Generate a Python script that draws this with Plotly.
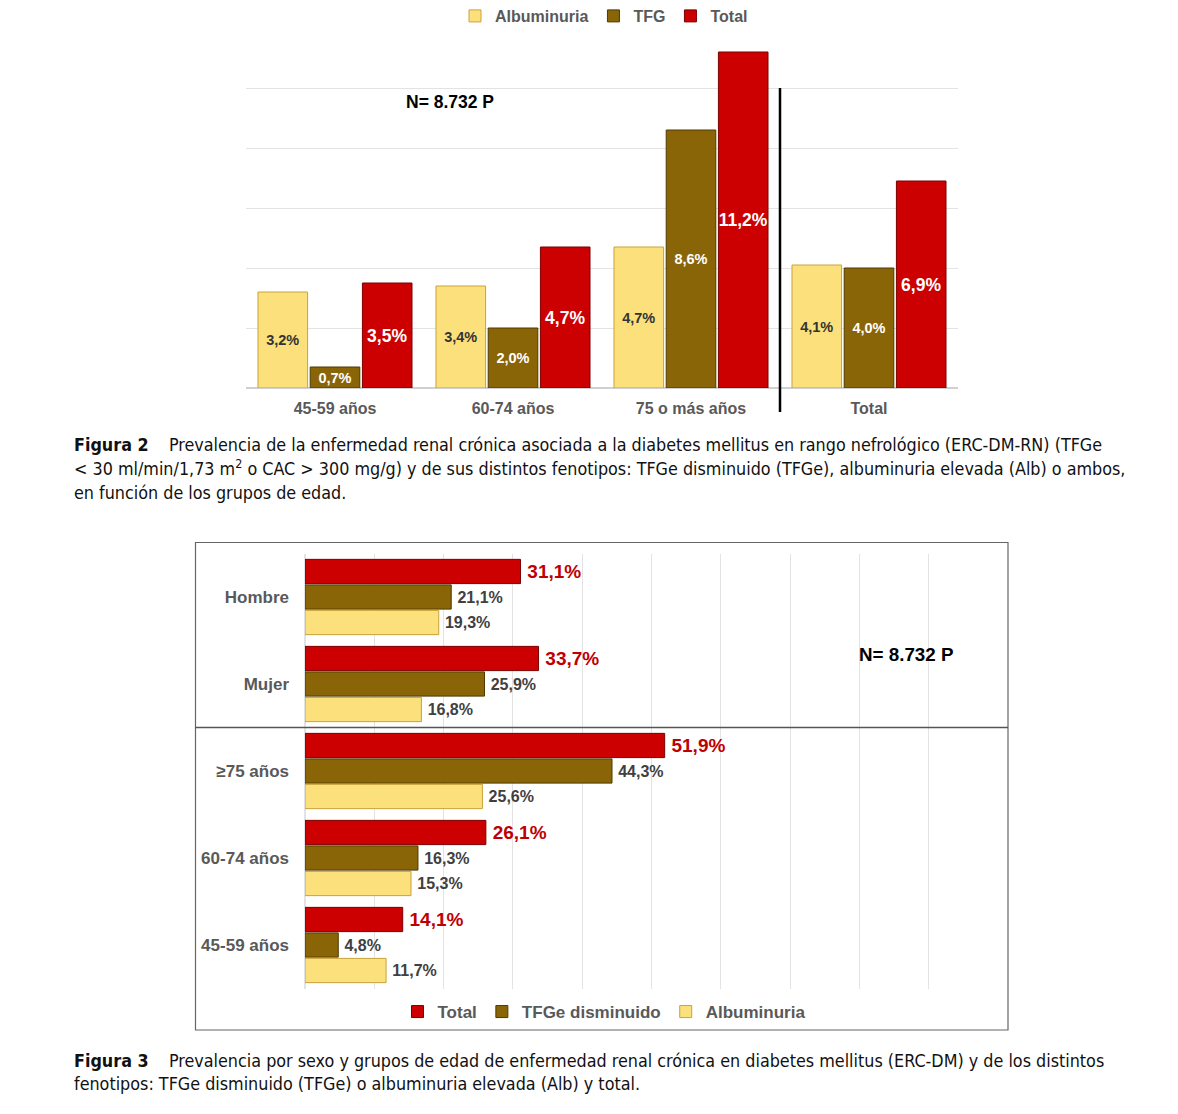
import plotly.graph_objects as go

# ---------------- Data: Figure 2 ----------------
f2_categories = ["45-59 años", "60-74 años", "75 o más años", "Total"]
f2_albuminuria = [3.2, 3.4, 4.7, 4.1]
f2_tfg = [0.7, 2.0, 8.6, 4.0]
f2_total = [3.5, 4.7, 11.2, 6.9]

# ---------------- Data: Figure 3 ----------------
f3_categories = ["45-59 años", "60-74 años", "≥75 años", "Mujer", "Hombre"]
f3_albuminuria = [11.7, 15.3, 25.6, 16.8, 19.3]
f3_tfge = [4.8, 16.3, 44.3, 25.9, 21.1]
f3_total = [14.1, 26.1, 51.9, 33.7, 31.1]

OFF = 8  # page body margin
W, H = 1178 - OFF, 1114 - OFF
YELLOW = "#FBE07B"
BROWN = "#8A6508"
RED = "#CC0000"
GREY = "#595959"
FONT = "Liberation Sans, Arial, sans-serif"
CAP_FONT = "DejaVu Sans Condensed, DejaVu Sans, sans-serif"


def fmt(vals, pre=""):
    return [pre + f"{v:.1f}%".replace(".", ",") for v in vals]


def px_x(p):
    return (p - OFF) / W


def px_y(p):
    return 1 - (p - OFF) / H


fig = go.Figure()

# Figure 2 bars
for name, vals, color, lcol, tcol, tsize in [
    ("Albuminuria", f2_albuminuria, YELLOW, "#C9A33C", "#333333", 14.5),
    ("TFG", f2_tfg, BROWN, "#4F3A00", "#FFFFFF", 14.5),
    ("Total", f2_total, RED, "#7A0000", "#FFFFFF", 17.5),
]:
    fig.add_trace(go.Bar(
        x=f2_categories, y=vals, name=name, xaxis="x", yaxis="y",
        marker=dict(color=color, line=dict(color=lcol, width=1)),
        text=fmt(vals), textposition="inside", insidetextanchor="middle",
        textangle=0, constraintext="none",
        textfont=dict(family=FONT, size=tsize, color=tcol, weight="bold"),
        legend="legend", hoverinfo="skip",
    ))

# Figure 3 bars (first trace drawn at bottom of each group)
for name, vals, color, lcol, tcol, tsize in [
    ("Albuminuria", f3_albuminuria, YELLOW, "#C9A33C", "#404040", 16),
    ("TFGe disminuido", f3_tfge, BROWN, "#4F3A00", "#404040", 16),
    ("Total", f3_total, RED, "#7A0000", "#C00000", 19),
]:
    fig.add_trace(go.Bar(
        y=f3_categories, x=vals, name=name, orientation="h",
        xaxis="x2", yaxis="y2",
        marker=dict(color=color, line=dict(color=lcol, width=1)),
        text=fmt(vals, "\u2009"), textposition="outside", constraintext="none",
        textangle=0, cliponaxis=False,
        textfont=dict(family=FONT, size=tsize, color=tcol, weight="bold"),
        legend="legend2", hoverinfo="skip",
    ))

shapes = [
    # separator line in figure 2
    dict(type="line", xref="x", yref="paper", x0=2.5, x1=2.5,
         y0=px_y(412), y1=px_y(88), line=dict(color="black", width=2.5)),
    # box around figure 3
    dict(type="rect", xref="paper", yref="paper", x0=px_x(195.5), x1=px_x(1008),
         y0=px_y(1030), y1=px_y(542.5), line=dict(color="#666666", width=1.2)),
    # separator line in figure 3
    dict(type="line", xref="paper", yref="y2", x0=px_x(195.5), x1=px_x(1008),
         y0=2.5, y1=2.5, line=dict(color="#555555", width=1.5)),
]

annotations = [
    dict(text="<b>N= 8.732 P</b>", xref="paper", yref="paper", x=px_x(404), y=px_y(102),
         xanchor="left", yanchor="middle", showarrow=False,
         font=dict(family=FONT, size=17.5, color="black")),
    dict(text="<b>N= 8.732 P</b>", xref="paper", yref="paper", x=px_x(857), y=px_y(654),
         xanchor="left", yanchor="middle", showarrow=False,
         font=dict(family=FONT, size=18.8, color="black")),
]

sp = "\u00a0"
cap_lines = [
    (444, f"<b>Figura 2</b>{sp*4}Prevalencia de la enfermedad renal crónica asociada a la diabetes mellitus en rango nefrológico (ERC-DM-RN) (TFGe"),
    (468, "<{sp}30{sp}ml/min/1,73 m<sup>2</sup> o CAC{sp}>{sp}300{sp}mg/g) y de sus distintos fenotipos: TFGe disminuido (TFGe), albuminuria elevada (Alb) o ambos,".replace("{sp}", sp)),
    (492, "en función de los grupos de edad."),
    (1060, f"<b>Figura 3</b>{sp*4}Prevalencia por sexo y grupos de edad de enfermedad renal crónica en diabetes mellitus (ERC-DM) y de los distintos"),
    (1083, "fenotipos: TFGe disminuido (TFGe) o albuminuria elevada (Alb) y total."),
]
for yy, t in cap_lines:
    annotations.append(dict(
        text=t, xref="paper", yref="paper", x=px_x(72), y=px_y(yy),
        xanchor="left", yanchor="middle", showarrow=False, align="left",
        font=dict(family=CAP_FONT, size=17.8, color="#111111")))

fig.update_layout(
    width=W, height=H,
    margin=dict(l=0, r=0, t=0, b=0, autoexpand=False),
    paper_bgcolor="white", plot_bgcolor="white",
    barmode="group", bargap=0.12, bargroupgap=0.05,
    font=dict(family=FONT),
    xaxis=dict(domain=[px_x(246), px_x(958)], anchor="y",
               tickfont=dict(family=FONT, size=16, color=GREY, weight="bold"),
               showline=False, ticks="", showgrid=False, ticklabelstandoff=9),
    yaxis=dict(domain=[px_y(388), px_y(28)], anchor="x", range=[0, 12], dtick=2,
               showticklabels=False, showgrid=True, gridcolor="#E3E3E3",
               zeroline=True, zerolinecolor="#D0D0D0", zerolinewidth=1.5),
    xaxis2=dict(domain=[px_x(305), px_x(998)], anchor="y2", range=[0, 100], dtick=10,
                showticklabels=False, showgrid=True, gridcolor="#E3E3E3",
                zeroline=True, zerolinecolor="#E3E3E3"),
    yaxis2=dict(domain=[px_y(988.5), px_y(553.5)], anchor="x2",
                tickfont=dict(family=FONT, size=17, color=GREY, weight="bold"),
                ticks="", ticklabelstandoff=15, showgrid=False),
    legend=dict(orientation="h", x=px_x(604), xanchor="center", y=1.0 + 9 / H, yanchor="top",
                font=dict(family=FONT, size=16, color=GREY, weight="bold"),
                traceorder="normal", itemwidth=30, bgcolor="rgba(0,0,0,0)",
                borderwidth=0),
    legend2=dict(orientation="h", x=px_x(604), xanchor="center", y=px_y(1012), yanchor="middle",
                 font=dict(family=FONT, size=17, color=GREY, weight="bold"),
                 traceorder="reversed", itemwidth=30, bgcolor="rgba(0,0,0,0)"),
    shapes=shapes, annotations=annotations,
    showlegend=True,
)

fig.write_html("out.html")
